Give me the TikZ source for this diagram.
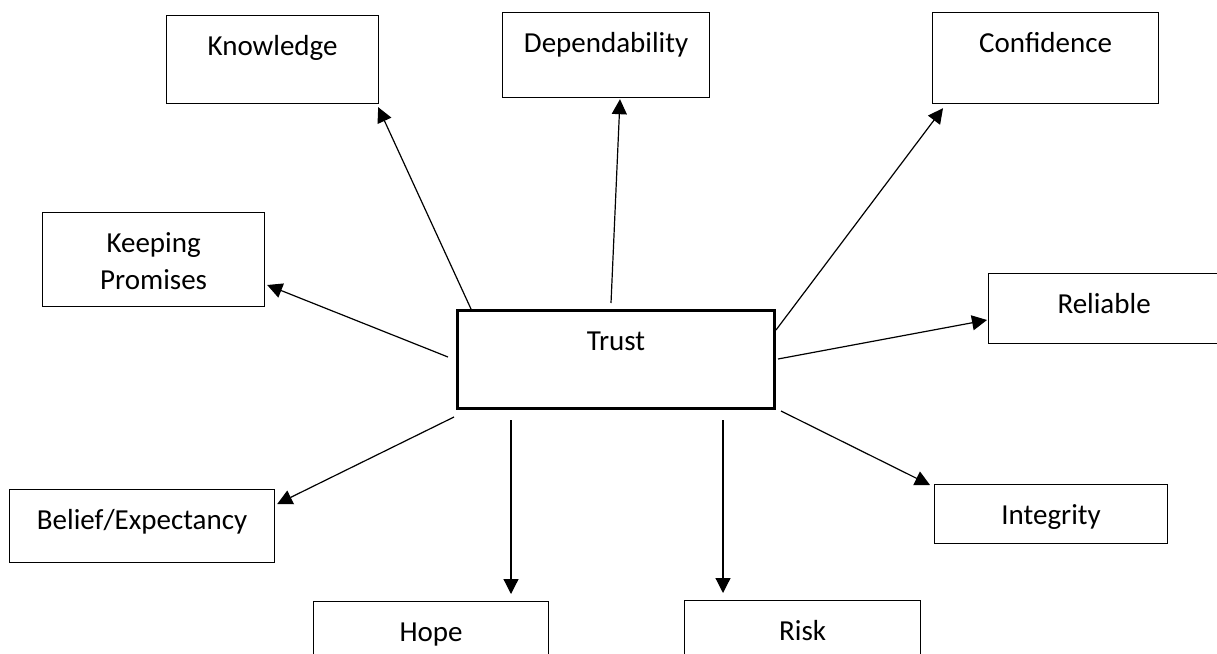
\documentclass[tikz,border=0pt]{standalone}
\usepackage{fontspec}
\setmainfont{Carlito}
\usetikzlibrary{arrows.meta,calc}
\begin{document}
\begin{tikzpicture}[x={(1pt,0)},y={(0,-1pt)},
  box/.style={draw=black,line width=1.2pt,inner sep=0pt,anchor=north west,
    align=center,font=\fontsize{29}{37}\selectfont,text height=40pt},
  hub/.style={box,line width=3pt},
  arr/.style={line width=1.2pt,-{Triangle[length=15pt,width=15pt]}}]
\useasboundingbox (0,0) rectangle (1217,653);

% central concept
\node[hub,text width=317pt,text depth=58pt] (trust) at (456,309) {Trust};

% surrounding concepts
\node[box,text width=212pt,text depth=48pt] (kn)   at (166,15)  {Knowledge};
\node[box,text width=207pt,text depth=45pt] (dep)  at (502,12)  {Dependability};
\node[box,text width=226pt,text depth=51pt] (conf) at (932,12)  {Confidence};
\node[box,text width=222pt,text depth=54pt] (kp)   at (42,212)  {Keeping\\Promises};
\node[box,text width=231pt,text depth=30pt] (rel)  at (988,273) {Reliable};
\node[box,text width=265pt,text depth=33pt] (bel)  at (9,489)   {Belief/Expectancy};
\node[box,text width=233pt,text depth=19pt] (int)  at (934,484) {Integrity};
\node[box,text width=235pt,text depth=40pt] (hope) at (313,601) {Hope};
\node[box,text width=236pt,text depth=40pt] (risk) at (684,600) {Risk};

% connectors from the hub
\draw[arr] ($(trust.north west)+(15,0)$)  -- ($(kn.south east)+(-1,3)$);
\draw[arr] ($(trust.north west)+(155,-6)$) -- ($(dep.south west)+(118,1)$);
\draw[arr] ($(trust.north east)+(0,21)$)  -- ($(conf.south west)+(11,4)$);
\draw[arr] ($(trust.north west)+(-8,48)$) -- ($(kp.north east)+(2,73)$);
\draw[arr] ($(trust.north east)+(2,50)$)  -- ($(rel.north west)+(-1,47)$);
\draw[arr] ($(trust.south east)+(5,1)$)   -- ($(int.north west)+(-4,1)$);
\draw[arr] ($(trust.south west)+(-2,7)$)  -- ($(bel.north east)+(2,15)$);
\draw[arr] ($(trust.south west)+(55,10)$) -- ($(hope.north west)+(198,-7)$);
\draw[arr] ($(trust.south west)+(267,10)$) -- ($(risk.north west)+(39,-7)$);
\end{tikzpicture}
\end{document}
